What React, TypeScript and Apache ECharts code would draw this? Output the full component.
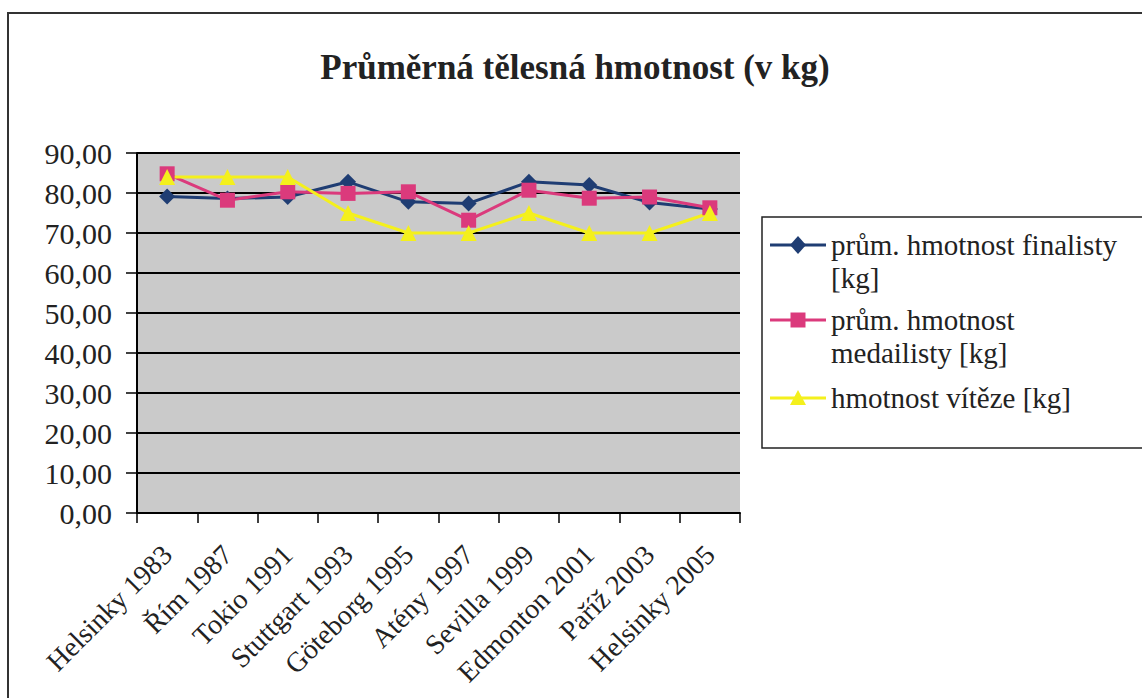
import React, { useEffect, useRef } from "react";
import * as echarts from "echarts";

const categories = [
  "Helsinky 1983",
  "Řím 1987",
  "Tokio 1991",
  "Stuttgart 1993",
  "Göteborg 1995",
  "Atény 1997",
  "Sevilla 1999",
  "Edmonton 2001",
  "Paříž 2003",
  "Helsinky 2005",
];
const finalistValues = [79.1, 78.6, 79, 82.8, 77.8, 77.4, 82.8, 82, 77.6, 76];
const medalistValues = [84.8, 78.2, 80.3, 79.9, 80.3, 73.2, 80.7, 78.7, 79, 76.3];
const winnerValues = [84, 84, 84, 75, 70, 70, 75, 70, 70, 75];
const seriesNames = [
  "prům. hmotnost finalisty\n[kg]",
  "prům. hmotnost\nmedailisty [kg]",
  "hmotnost vítěze [kg]",
];
const seriesColors = ["#1f3d73", "#db3a7c", "#f4f01c"];
const titleText = "Průměrná tělesná hmotnost (v kg)";

const FONT = "Liberation Serif";

function legendEntry(i: number, cy: number): any[] {
  const color = seriesColors[i];
  const x0 = 770;
  const x1 = 826;
  const mx = (x0 + x1) / 2;
  const els: any[] = [
    {
      type: "line",
      shape: { x1: x0, y1: cy, x2: x1, y2: cy },
      style: { stroke: color, lineWidth: 3 },
    },
  ];
  if (i === 0) {
    els.push({
      type: "polygon",
      shape: { points: [[mx, cy - 9], [mx + 8, cy], [mx, cy + 9], [mx - 8, cy]] },
      style: { fill: color },
    });
  } else if (i === 1) {
    els.push({
      type: "rect",
      shape: { x: mx - 7.5, y: cy - 7.5, width: 15, height: 15 },
      style: { fill: color },
    });
  } else {
    els.push({
      type: "polygon",
      shape: { points: [[mx, cy - 8], [mx + 8, cy + 7], [mx - 8, cy + 7]] },
      style: { fill: color },
    });
  }
  els.push({
    type: "text",
    x: 831,
    y: cy - 16.5,
    style: {
      text: seriesNames[i],
      fontFamily: FONT,
      fontSize: 29,
      lineHeight: 33,
      fill: "#222",
      align: "left",
      verticalAlign: "top",
    },
  });
  return els;
}

export default function App() {
  const ref = useRef<HTMLDivElement>(null);
  useEffect(() => {
    if (!ref.current) return;
    const chart = echarts.init(ref.current, null, { renderer: "svg" });
    chart.setOption({
      animation: false,
      backgroundColor: "#ffffff",
      textStyle: { fontFamily: FONT },
      title: {
        text: titleText,
        left: 570,
        textAlign: "center",
        top: 45,
        textStyle: { fontFamily: FONT, fontSize: 35, fontWeight: "bold", color: "#222" },
      },
      legend: { show: false, data: seriesNames },
      grid: {
        left: 137,
        top: 153,
        width: 603,
        height: 360,
        show: true,
        backgroundColor: "#cacaca",
        borderWidth: 0,
      },
      xAxis: {
        type: "category",
        data: categories,
        boundaryGap: true,
        axisLine: { lineStyle: { color: "#000", width: 2 } },
        axisTick: { show: true, length: 10, lineStyle: { color: "#000", width: 1.5 } },
        axisLabel: {
          rotate: 45,
          interval: 0,
          margin: 37,
          fontFamily: FONT,
          fontSize: 28,
          color: "#222",
        },
      },
      yAxis: {
        type: "value",
        min: 0,
        max: 90,
        interval: 10,
        axisLine: { show: true, lineStyle: { color: "#000", width: 2 } },
        axisTick: { show: true, length: 11, lineStyle: { color: "#000", width: 1.5 } },
        axisLabel: {
          margin: 25,
          fontFamily: FONT,
          fontSize: 30,
          color: "#222",
          formatter: (v: number) => v.toFixed(2).replace(".", ","),
        },
        splitLine: { show: true, lineStyle: { color: "#000", width: 2 } },
      },
      series: [
        {
          name: seriesNames[0],
          type: "line",
          data: finalistValues,
          symbol: "diamond",
          symbolSize: 16,
          lineStyle: { color: seriesColors[0], width: 3 },
          itemStyle: { color: seriesColors[0] },
        },
        {
          name: seriesNames[1],
          type: "line",
          data: medalistValues,
          symbol: "rect",
          symbolSize: 15,
          lineStyle: { color: seriesColors[1], width: 3 },
          itemStyle: { color: seriesColors[1] },
        },
        {
          name: seriesNames[2],
          type: "line",
          data: winnerValues,
          symbol: "triangle",
          symbolSize: 16,
          lineStyle: { color: seriesColors[2], width: 3 },
          itemStyle: { color: seriesColors[2] },
        },
      ],
      graphic: [
        {
          type: "rect",
          shape: { x: 8, y: 13, width: 1150, height: 720 },
          style: { fill: "none", stroke: "#333", lineWidth: 2 },
          silent: true,
          z: -1,
        },
        {
          type: "rect",
          shape: { x: 762, y: 217, width: 400, height: 231 },
          style: { fill: "none", stroke: "#222", lineWidth: 1.5 },
          silent: true,
        },
        ...legendEntry(0, 245),
        ...legendEntry(1, 320),
        ...legendEntry(2, 398),
      ],
    });
    return () => chart.dispose();
  }, []);
  return (
    <div
      ref={ref}
      style={{ position: "fixed", left: 0, top: 0, width: 1142, height: 698 }}
    />
  );
}
